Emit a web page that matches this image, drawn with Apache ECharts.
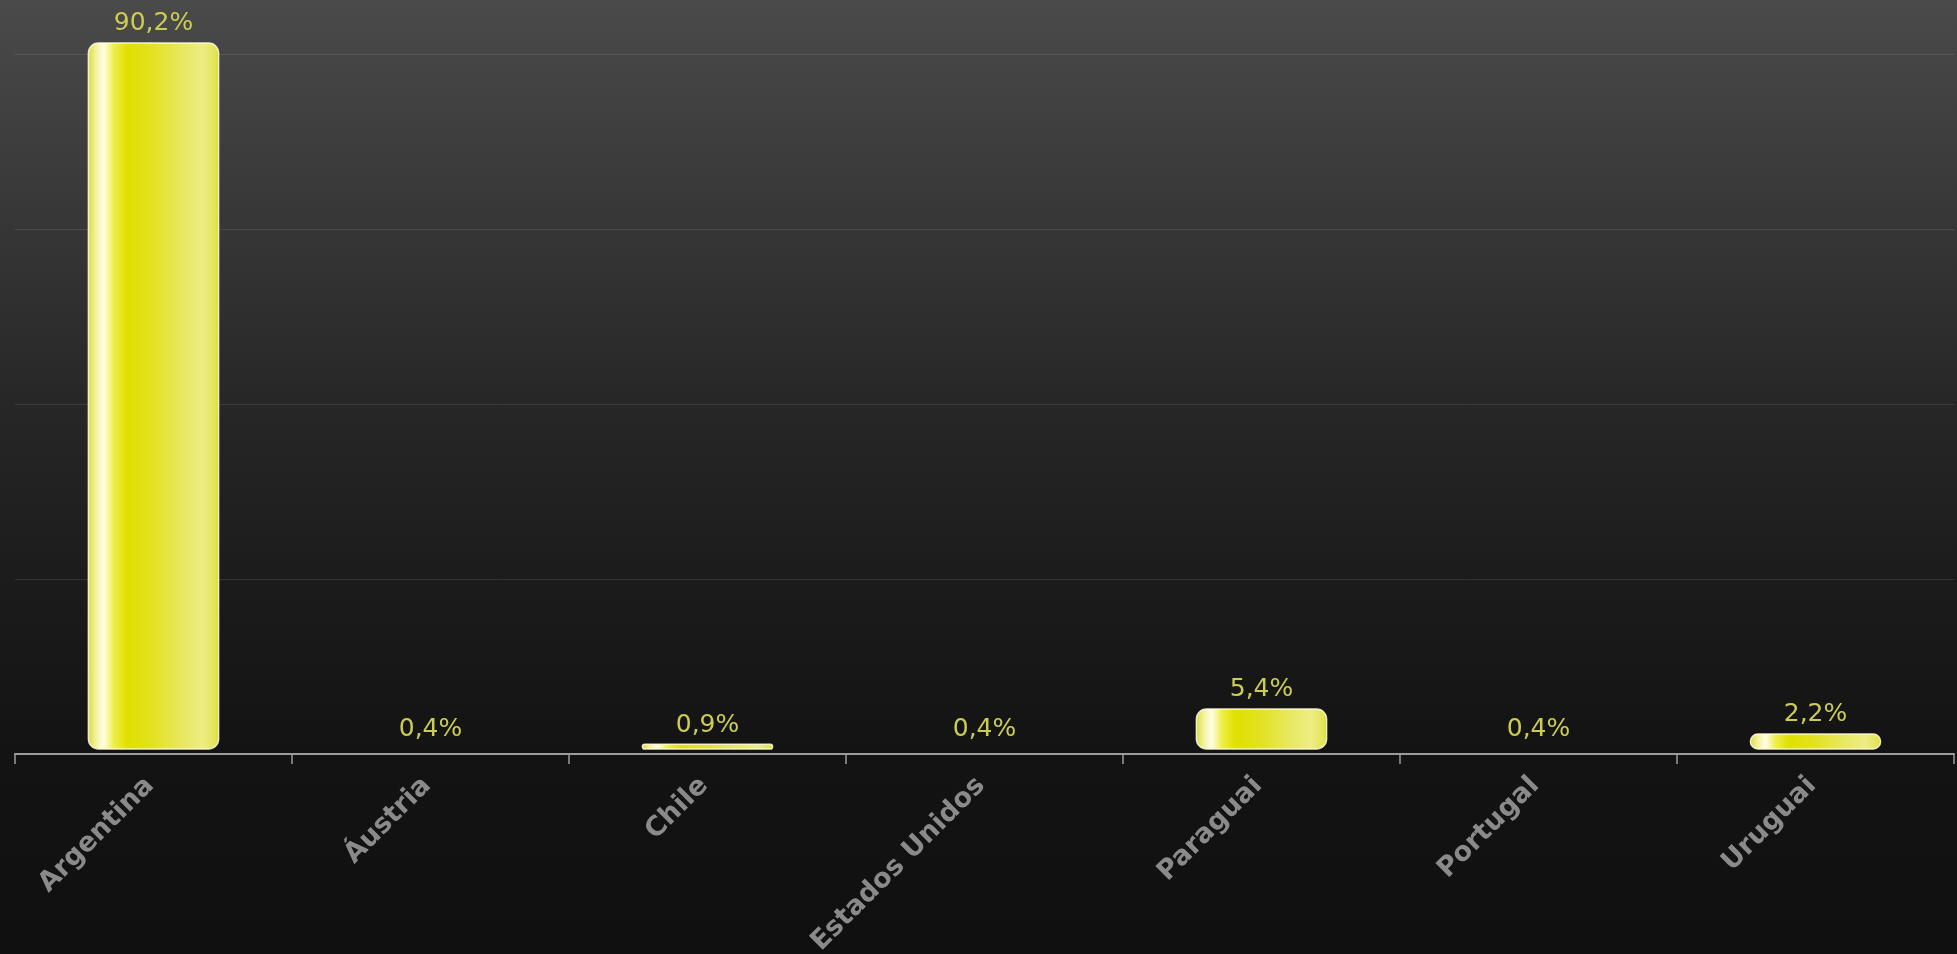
<!DOCTYPE html>
<html>
<head>
<meta charset="utf-8">
<script src="https://cdn.jsdelivr.net/npm/echarts@6/dist/echarts.min.js"></script>
<style>
html,body{margin:0;padding:0;background:#101010;}
#chart{width:1957px;height:954px;}
</style>
</head>
<body>
<div id="chart"></div>
<script>
const categories = ['Argentina', 'Áustria', 'Chile', 'Estados Unidos', 'Paraguai', 'Portugal', 'Uruguai'];
const values = [90.2, 0.4, 0.9, 0.4, 5.4, 0.4, 2.2];

const chart = echarts.init(document.getElementById('chart'));
const barGradient = new echarts.graphic.LinearGradient(0, 0, 1, 0, [
  { offset: 0, color: '#d8d840' },
  { offset: 0.06, color: '#f2f29a' },
  { offset: 0.12, color: '#fffee6' },
  { offset: 0.2, color: '#eeee48' },
  { offset: 0.3, color: '#e0e000' },
  { offset: 0.5, color: '#e2e222' },
  { offset: 0.72, color: '#e8e862' },
  { offset: 0.88, color: '#eded84' },
  { offset: 0.97, color: '#e4e456' },
  { offset: 1, color: '#d4d42c' }
]);

const fmt = v => v.toFixed(1).replace('.', ',') + '%';

chart.setOption({
  animation: false,
  backgroundColor: new echarts.graphic.LinearGradient(0, 0, 0, 1, [
    { offset: 0, color: '#4a4a4a' },
    { offset: 0.24, color: '#363636' },
    { offset: 0.42, color: '#272727' },
    { offset: 0.6, color: '#1c1c1c' },
    { offset: 0.79, color: '#131313' },
    { offset: 1, color: '#101010' }
  ]),
  grid: { left: 15, right: 3, top: 54, bottom: 200, containLabel: false, outerBoundsMode: 'none' },
  xAxis: {
    type: 'category',
    data: categories,
    axisLine: { onZero: false, lineStyle: { color: '#9c9c9c', width: 2 } },
    axisTick: { show: true, length: 10, lineStyle: { color: '#9c9c9c', width: 1.5 } },
    axisLabel: {
      rotate: 45,
      interval: 0,
      margin: 24,
      padding: [0, 5, 0, 0],
      color: '#8a8a8a',
      fontFamily: 'DejaVu Sans',
      fontWeight: 'bold',
      fontSize: 27
    }
  },
  yAxis: [
    {
      type: 'value',
      min: 0, max: 90, interval: 22.5,
      axisLine: { show: false }, axisTick: { show: false }, axisLabel: { show: false },
      splitLine: { show: true, lineStyle: { color: 'rgba(255,255,255,0.1)', width: 1 } }
    },
    {
      type: 'value',
      min: -0.331, max: 88.8,
      show: false,
      splitLine: { show: false }
    }
  ],
  series: [{
    type: 'custom',
    yAxisIndex: 1,
    clip: false,
    data: values.map((v, i) => [i, v]),
    encode: { x: 0, y: 1 },
    renderItem: function (params, api) {
      const xi = api.value(0), v = api.value(1);
      const top = api.coord([xi, v]);
      const base = api.coord([xi, 0]);
      const bw = api.size([1, 0])[0] * 0.47;
      const bottom = base[1] - 2.4;
      const h = Math.max(0, bottom - top[1]);
      const visible = h >= 1.5;
      return {
        type: 'rect',
        shape: { x: top[0] - bw / 2, y: top[1], width: bw, height: h, r: Math.min(10, h / 2) },
        style: {
          fill: visible ? barGradient : 'rgba(0,0,0,0)',
          stroke: visible ? 'rgba(255,255,225,0.85)' : null,
          lineWidth: 1.5
        },
        textContent: {
          style: {
            text: fmt(v),
            fill: '#cccc55',
            fontFamily: 'DejaVu Sans',
            fontSize: 25
          }
        },
        textConfig: { position: 'top', distance: 6 }
      };
    }
  }]
});
</script>
</body>
</html>
